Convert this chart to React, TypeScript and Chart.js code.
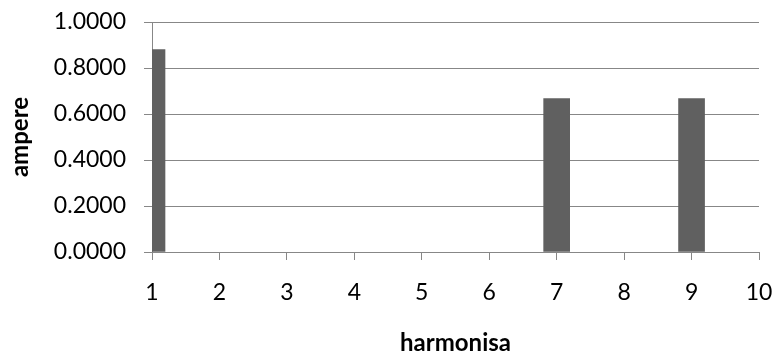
import React, { useEffect, useRef } from "react";
import { Chart, registerables } from "chart.js";

Chart.register(...registerables);

const harmonics: number[] = [1, 2, 3, 4, 5, 6, 7, 8, 9, 10];
const amperes: number[] = [0.88, 0, 0, 0, 0, 0, 0.6667, 0, 0.6667, 0];
const yTicks: number[] = [0, 0.2, 0.4, 0.6, 0.8, 1.0];

const GRID = "#878787";
const BAR = "#606060";
const FONT = "Lato";

export default function App() {
  const ref = useRef<HTMLCanvasElement | null>(null);

  useEffect(() => {
    document.body.style.margin = "0";
    const canvas = ref.current;
    if (!canvas) return;
    const chart = new Chart(canvas, {
      type: "bar",
      data: {
        datasets: [
          {
            label: "ampere",
            // zero-valued harmonics draw no bar at all (avoids hairline artefacts)
            data: harmonics.map((h, i) => ({ x: h, y: amperes[i] === 0 ? null : amperes[i] })),
            backgroundColor: BAR,
            borderWidth: 0,
            barThickness: 26,
            clip: 0,
          } as any,
        ],
      },
      options: {
        animation: false,
        responsive: true,
        maintainAspectRatio: false,
        layout: { padding: 0 },
        plugins: {
          legend: { display: false },
          tooltip: { enabled: false },
        },
        scales: {
          x: {
            type: "linear",
            min: harmonics[0],
            max: harmonics[harmonics.length - 1],
            offset: false,
            afterFit: (s: any) => {
              s.height = 103;
              s.paddingLeft = 0;
              s.paddingRight = 15;
            },
            ticks: {
              stepSize: 1,
              color: "#000",
              padding: 19,
              font: { family: FONT, size: 23 },
              callback: (v: any) => String(v),
            },
            grid: {
              display: true,
              offset: false,
              drawOnChartArea: false,
              drawTicks: true,
              tickLength: 8,
              color: GRID,
              lineWidth: 1,
            },
            border: { display: true, color: GRID, width: 1 },
            title: {
              display: true,
              text: "harmonisa",
              color: "#000",
              padding: { top: 0, bottom: 0 },
              font: { family: FONT, size: 24, weight: "bold", lineHeight: 1 },
            },
          },
          y: {
            type: "linear",
            min: yTicks[0],
            max: yTicks[yTicks.length - 1],
            afterFit: (s: any) => {
              s.width = 152;
              s.paddingTop = 22;
              s.paddingBottom = 0;
            },
            afterBuildTicks: (s: any) => {
              s.ticks = yTicks.map((v) => ({ value: v }));
            },
            ticks: {
              stepSize: 0.2,
              color: "#000",
              padding: 18,
              font: { family: FONT, size: 23 },
              callback: (v: any) => Number(v).toFixed(4),
            },
            grid: {
              display: true,
              drawOnChartArea: true,
              drawTicks: true,
              tickLength: 8,
              color: GRID,
              lineWidth: 1,
            },
            border: { display: true, color: GRID, width: 1 },
            title: {
              display: true,
              text: "ampere",
              color: "#000",
              padding: { top: 8, bottom: 0 },
              font: { family: FONT, size: 24, weight: "bold", lineHeight: 1 },
            },
          },
        },
      },
    });
    return () => chart.destroy();
  }, []);

  return (
    <div style={{ position: "absolute", left: 0, top: 0, width: 774, height: 355 }}>
      <canvas ref={ref} />
    </div>
  );
}
